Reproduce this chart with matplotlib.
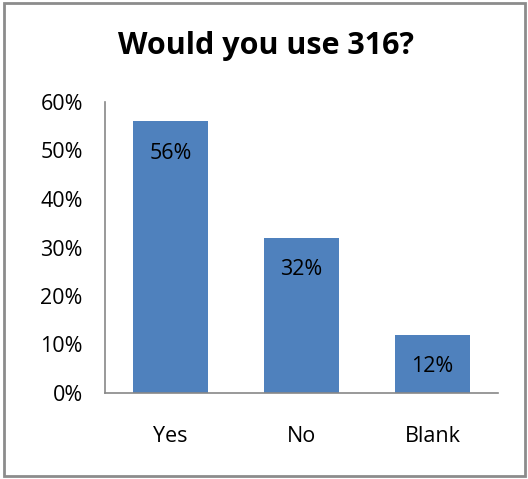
import matplotlib.pyplot as plt
from matplotlib.patches import Rectangle
from matplotlib.ticker import FuncFormatter

plt.rcParams['font.family'] = ['Open Sans', 'DejaVu Sans']

# data
categories = ['Yes', 'No', 'Blank']
shares = [0.56, 0.32, 0.12]
bar_labels = ['56%', '32%', '12%']

fig = plt.figure(figsize=(5.28, 4.79), dpi=100)
ax = fig.add_axes([105 / 528, 1 - 393 / 479, 393 / 528, 291 / 479])

bars = ax.bar(range(len(categories)), shares, width=0.565, color='#4F81BD')
ax.set_xlim(-0.5, len(categories) - 0.5)
ax.set_ylim(0, 0.6)
ax.set_yticks([0, 0.1, 0.2, 0.3, 0.4, 0.5, 0.6])
ax.yaxis.set_major_formatter(FuncFormatter(lambda v, _: f'{v * 100:.0f}%'))
ax.set_xticks(range(len(categories)))
ax.set_xticklabels(categories)
ax.tick_params(axis='both', length=0, labelsize=15.5)
ax.tick_params(axis='y', pad=16)
ax.tick_params(axis='x', pad=24)

for s in ['top', 'right']:
    ax.spines[s].set_visible(False)
for s in ['left', 'bottom']:
    ax.spines[s].set_color('#888888')
    ax.spines[s].set_linewidth(1.2)

# value labels inside the bars
for bar, lab in zip(bars, bar_labels):
    ax.annotate(lab, (bar.get_x() + bar.get_width() / 2, bar.get_height()),
                xytext=(0, -23), textcoords='offset points',
                ha='center', va='center', fontsize=15.5, color='black')

fig.text(266 / 528, 1 - 46 / 479, 'Would you use 316?', ha='center', va='center',
         fontsize=22, fontweight='bold')

# outer border
fig.patches.append(Rectangle((4 / 528, 3 / 479), 521 / 528, 473 / 479,
                             transform=fig.transFigure, fill=False,
                             edgecolor='#8c8c8c', linewidth=2))

plt.savefig('out.png', dpi=100)
